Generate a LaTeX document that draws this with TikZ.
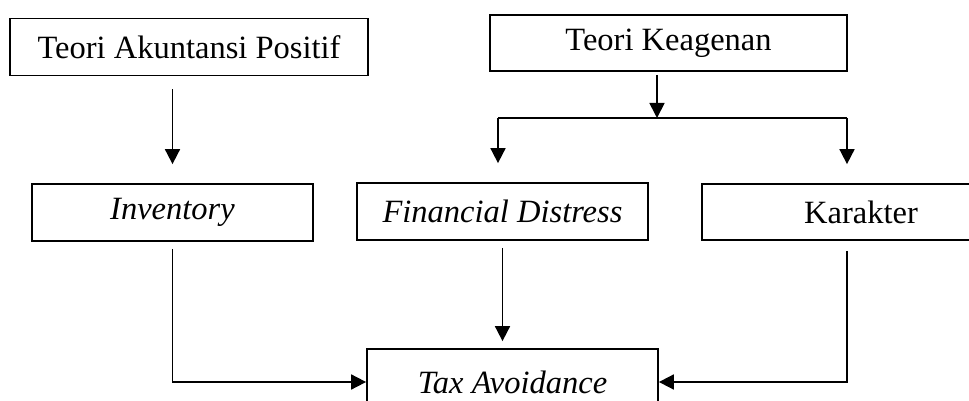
\documentclass[tikz,border=0pt]{standalone}
\usepackage{fontspec}
\setmainfont{Liberation Serif}
\usepackage{tikz}
\usetikzlibrary{arrows.meta, positioning, calc}
\tikzset{
  block/.style={rectangle, draw=black, fill=white, align=center,
    font=\fontsize{18.5}{22}\selectfont, line width=1pt, inner sep=0pt},
  arrow/.style={-{Triangle[length=0.3cm, width=0.3cm]}, line width=1pt, color=black},
  line/.style={line width=1pt, color=black}
}
\begin{document}
\begin{tikzpicture}[x=0.02cm, y=-0.02cm]
  \clip (0,0) rectangle (969,401);
  \node [block, minimum width=358*0.02cm, minimum height=57*0.02cm] (tap) at (189,47) {Teori Akuntansi Positif};
  \node [block, minimum width=357*0.02cm, minimum height=56*0.02cm] (tk) at (668.5,43) {Teori Keagenan};
  \node [block, minimum width=281*0.02cm, minimum height=57*0.02cm] (inv) at (172.5,212.5) {\textit{Inventory}};
  \node [block, minimum width=291*0.02cm, minimum height=57*0.02cm] (fd) at (502.5,211.5) {\textit{Financial Distress}};
  \node [block, minimum width=318*0.02cm, minimum height=56*0.02cm] (kar) at (861,212) {Karakter};
  \node [block, minimum width=291*0.02cm, minimum height=66*0.02cm] (tax) at (512.5,382) {\textit{Tax Avoidance}};

  \coordinate (split) at (657,118);
  \coordinate (fl) at (498,118);
  \coordinate (fr) at (847,118);

  \draw [arrow, shorten <=0.26cm, shorten >=0.38cm] (tap.south -| inv.north) -- (inv.north);
  \draw [arrow, shorten <=0.06cm] (tk.south -| split) -- (split);
  \draw [line] (fl) -- (fr);
  \draw [arrow, shorten >=0.38cm] (fl) -- (fl |- fd.north);
  \draw [arrow, shorten >=0.38cm] (fr) -- (fr |- kar.north);

  \draw [arrow, shorten <=0.14cm] (inv.south) |- (tax.west);
  \draw [arrow, shorten <=0.14cm, shorten >=0.14cm] (fd.south) -- (fd.south |- tax.north);
  \draw [arrow, shorten <=0.2cm] (kar.south -| fr) |- (tax.east);
\end{tikzpicture}
\end{document}
